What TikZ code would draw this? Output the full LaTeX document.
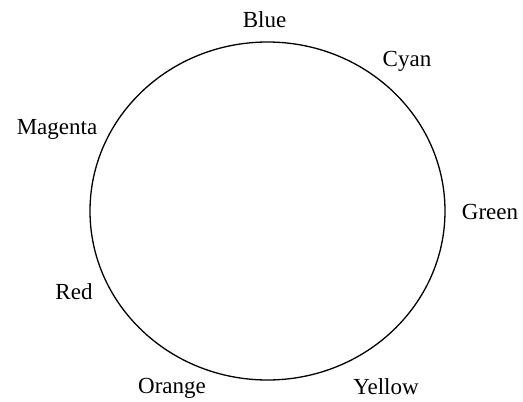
\documentclass[tikz,border=0pt]{standalone}
\usepackage{fontspec}
\setmainfont{Liberation Serif}
\usetikzlibrary{positioning}

\begin{document}
\begin{tikzpicture}[x=1pt, y=-1pt,
    hue/.style={anchor=base, inner sep=0pt, font=\fontsize{23}{27}\selectfont}]
    \useasboundingbox (0,0) rectangle (523,402);
    \draw[line width=1.3pt] (267.5,211) ellipse [x radius=177.5, y radius=169];
    \node[hue] (blue) at (264.5,27) {Blue};
    \node[hue] (cyan) at (407,66) {Cyan};
    \node[hue] (magenta) at (57,134.5) {Magenta};
    \node[hue] (green) at (490,219.5) {Green};
    \node[hue] (red) at (74,299.5) {Red};
    \node[hue] (orange) at (172,393.5) {Orange};
    \node[hue] (yellow) at (386,394.5) {Yellow};
\end{tikzpicture}
\end{document}
